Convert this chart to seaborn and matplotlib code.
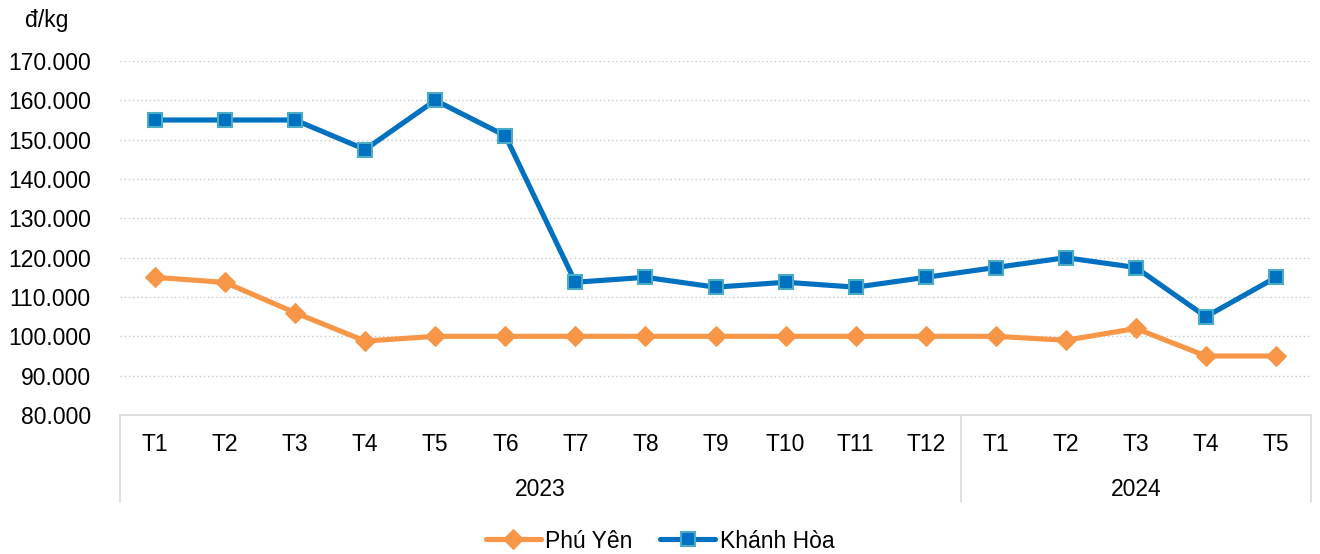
import matplotlib
matplotlib.use("Agg")
import matplotlib.pyplot as plt
import matplotlib.transforms as mtransforms
import seaborn as sns
import pandas as pd
import numpy as np

months = ["T1", "T2", "T3", "T4", "T5", "T6", "T7", "T8", "T9", "T10", "T11", "T12",
          "T1", "T2", "T3", "T4", "T5"]
years = ["2023", "2024"]
year_counts = [12, 5]
phu_yen = [115000, 113700, 106000, 98800, 100000, 100000, 100000, 100000, 100000,
           100000, 100000, 100000, 100000, 99000, 102000, 95000, 95000]
khanh_hoa = [155000, 155000, 155000, 147500, 160000, 151000, 113750, 115000, 112500,
             113750, 112500, 115000, 117500, 120000, 117500, 105000, 115000]
series_names = ["Phú Yên", "Khánh Hòa"]
y_ticks = [80000, 90000, 100000, 110000, 120000, 130000, 140000, 150000, 160000, 170000]
unit_label = "đ/kg"

sns.set_theme(style="white")
plt.rcParams["font.family"] = ["Liberation Sans", "DejaVu Sans"]

FS = 16.5

df = pd.DataFrame({
    "pos": list(range(len(months))) * 2,
    "value": phu_yen + khanh_hoa,
    "series": [series_names[0]] * len(months) + [series_names[1]] * len(months),
})

fig = plt.figure(figsize=(13.2, 5.54), dpi=100)
ax = fig.add_axes([120 / 1320, 1 - 415 / 554, (1311 - 120) / 1320, (415 - 61) / 554])

styles = {
    series_names[0]: dict(color="#F79646", marker="D", markersize=10,
                          markerfacecolor="#F79646", markeredgecolor="#F79646"),
    series_names[1]: dict(color="#0070C0", marker="s", markersize=10.5,
                          markerfacecolor="#0070C0", markeredgecolor="#4BACC6",
                          markeredgewidth=1.5),
}
for name in series_names:
    sub = df[df["series"] == name]
    sns.lineplot(data=sub, x="pos", y="value", ax=ax, label=name, linewidth=3.7,
                 zorder=3, **styles[name])

ax.set_xlim(-0.5, len(months) - 0.5)
ax.set_ylim(y_ticks[0], y_ticks[-1])
ax.set_yticks(y_ticks)
ax.set_yticklabels([f"{v:,}".replace(",", ".") for v in y_ticks], fontsize=FS, color="#000000")
ax.set_xticks(range(len(months)))
ax.set_xticklabels(months, fontsize=FS, color="#000000")
ax.tick_params(axis="both", length=0)
ax.tick_params(axis="x", pad=13)
ax.tick_params(axis="y", pad=21)
ax.set_xlabel("")
ax.set_ylabel("")

for v in y_ticks[1:]:
    ax.axhline(v, color="#C8C8C8", linestyle=(0, (1, 2)), linewidth=1.0, zorder=1)

for s in ["left", "right", "top"]:
    ax.spines[s].set_visible(False)
ax.spines["bottom"].set_color("#D9D9D9")
ax.spines["bottom"].set_linewidth(1.2)

trans = mtransforms.blended_transform_factory(ax.transData, ax.transAxes)
bounds = [-0.5]
acc = -0.5
for c in year_counts:
    acc += c
    bounds.append(acc)
for b in bounds:
    ax.plot([b, b], [0, -0.245], transform=trans, color="#D9D9D9", linewidth=1.2,
            clip_on=False)
start = -0.5
for yr, c in zip(years, year_counts):
    ax.text(start + c / 2, -0.21, yr, transform=trans, ha="center", va="center",
            fontsize=FS, color="#000000")
    start += c

fig.text(25 / 1320, 1 - 20 / 554, unit_label, fontsize=FS, ha="left", va="center",
         color="#000000")

leg = ax.legend(loc="center", bbox_to_anchor=(0.5, 1 - 541 / 554), bbox_transform=fig.transFigure,
                ncol=2, frameon=False, fontsize=FS, handlelength=2.4, columnspacing=1.2,
                handletextpad=0.2)
for t in leg.get_texts():
    t.set_color("#000000")

fig.savefig("out.png", dpi=100)
